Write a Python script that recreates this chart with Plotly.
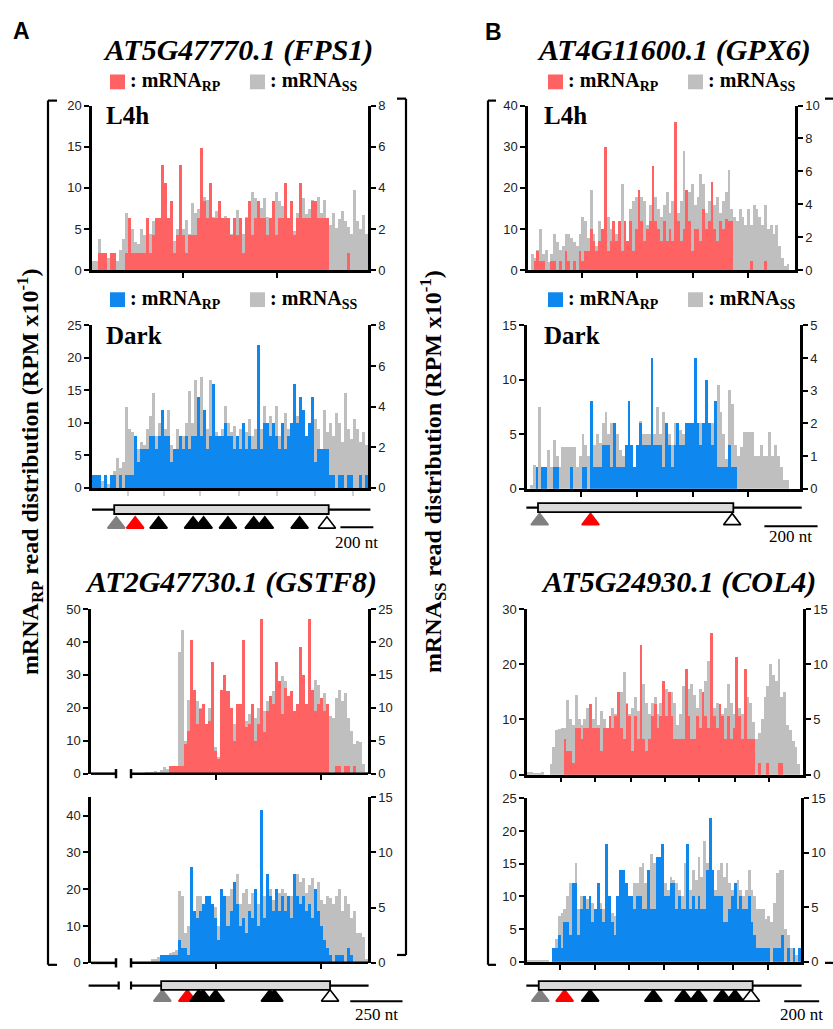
import plotly.graph_objects as go

W, H = 833, 1029
RED = "#ff6262"
BLUE = "#0e87ef"
GRAY = "#bfbfbf"

# ---------------- data: read distributions (bins along transcript) ----------------
# FPS1 (AT5G47770.1) L4h
fps1_l4h_rp = [0,0,2.1,2.1,2.1,0,2.1,2.1,0,0, 0,2.1,6.4,2.1,2.1,2.1,2.1,2.1,6.4,2.1,
               4.3,6.4,6.4,12.8,10.6,6.4,8.5,2.1,4.3,12.8, 4.3,2.1,4.3,4.3,4.3,6.4,14.9,8.5,6.4,10.6,
               6.4,6.4,8.5,6.4,6.4,6.4,4.3,6.4,4.3,6.4, 2.1,6.4,8.5,4.3,6.4,8.5,6.4,6.4,4.3,6.4,
               8.5,4.3,6.4,6.4,10.6,6.4,8.5,4.3,6.4,10.6, 6.4,6.4,6.4,8.5,8.5,6.4,6.4,6.4,6.4,0,
               0,0,0,0,0,2.1,0,0,0,0, 0,0]
fps1_l4h_ss = [0.48,0.48,1.52,0.8,0.48,0.6,0.8,0.4,0.48,1.0, 1.52,2.8,2.28,2.0,1.4,1.28,2.0,1.72,1.72,1.8,
               2.4,2.0,1.6,2.56,2.4,1.92,1.72,1.44,2.0,2.0, 2.0,2.48,1.76,3.28,2.8,3.0,2.6,3.6,3.44,3.0,
               2.6,2.88,3.12,2.4,2.64,2.2,1.8,2.4,2.96,2.16, 1.8,2.6,2.8,3.84,3.52,3.2,3.04,3.52,2.6,2.2,
               2.8,3.84,3.36,3.12,2.6,2.4,2.92,1.92,2.8,2.6, 3.52,2.76,3.0,3.44,3.2,3.6,2.8,3.44,2.56,2.2,
               2.8,2.08,2.52,2.88,2.4,2.12,1.8,3.92,2.4,2.0, 2.68,1.8]
# FPS1 Dark
fps1_dark_rp = [2,2,2,0,2,0,2,2,0,2, 0,2,2,2,8,4,6,6,6,8, 8,6,8,12,8,8,4,6,6,8,
                6,8,6,8,8,14,8,12,6,8, 16,8,8,8,10,8,8,6,8,6, 10,6,8,6,6,22,6,10,10,8,
                10,8,6,10,6,8,10,16,10,14, 12,8,10,14,4,6,6,6,6,2, 2,0,2,2,0,2,2,0,0,2, 0,2]
fps1_dark_ss = [0.32,0.32,0.32,0.32,0.32,0.16,0.32,0.8,1.44,0.96, 1.28,3.97,2.88,2.72,2.24,1.92,2.24,2.08,2.88,3.52,
                4.64,2.56,3.2,3.2,2.88,3.84,2.08,1.6,2.88,2.24, 2.56,3.2,4.74,3.2,5.28,4.48,5.44,3.84,2.88,5.28,
                4.48,2.72,2.56,2.88,4.0,3.2,2.72,3.04,2.24,2.88, 3.04,2.72,3.36,2.56,2.88,2.72,2.88,4.0,3.2,3.52,
                3.04,4.0,2.56,3.04,3.68,2.88,3.2,2.88,3.52,2.72, 3.2,2.56,2.88,2.08,3.36,2.88,1.92,3.84,2.72,3.2,
                2.56,3.68,3.2,2.24,4.64,2.88,2.4,3.36,2.88,2.24, 2.72,2.08]
# GSTF8 (AT2G47730.1) L4h
gstf8_l4h_rp = [0,0,0,0,0,0,0,0,0,0, 0,0,0,0,0,0,0,0,0,0, 0,0,0,0,0,0,2.3,2.3,2.3,2.3,
                2.3,9,13,40.5,25.5,15,19.5,21,15,16, 34,7,4.5,25.5,30,25,20,10,21,21,
                40.5,14,15,21,10,15,47,12.5,19,23.5, 21,34,28,18,26,23.5,25,19,21,38.5,
                30,21,47,25.5,19,21,23,19,21,0, 0,2.3,2.3,0,2.3,2.3,0,2.3,0,0, 0,0]
gstf8_l4h_ss = [0,0,0,0,0,0,0,0,0,0, 0,0,0,0,0,0,0,0,0.15,0.25,
                0.25,0.4,0.25,0.5,1,0.75,0.75,1,1,18.5, 21.75,5,11.25,10,6,11,10,10.5,7.5,10,
                7.5,4,2.5,7,7,10.5,9,7.5,10,7, 9,8,9,10,8.5,10,11.5,9.5,11,10,
                12.5,12.5,11,14.75,14,11.5,10,9,10.5,10, 13.75,10.5,12,12.5,14.25,13.5,11,12.25,9,8.75,
                8.5,11.5,12.75,11,12.25,8.5,6.5,4.5,5,4.75, 1.5,0.25]
# GSTF8 Dark
gstf8_dark_rp = [0,0,0,0,0,0,0,0,0,0, 0,0,0,0,0,0,0,0,0,0, 0,0,0,2,2,2,2,2,2,6,
                 4,4,2,26,14,12,14,16,18,18, 16,12,6,20,18,10,14,22,16,10, 12,8,14,12,20,10,41.5,12,24,18,
                 14,20,14,18,14,18,12,24,18,16, 18,14,16,12,20,14,10,6,4,2, 0,2,2,2,0,4,2,0,0,0, 0,0]
gstf8_dark_ss = [0,0,0,0,0,0,0,0,0,0, 0,0,0,0,0,0,0,0,0,0,
                 0.33,0.33,0.5,0.67,0.67,0.67,0.83,1,1.17,6.5, 6,2.67,3.33,4,4.33,6,6,4.67,5.67,5.67,
                 5.33,5,3.33,5.67,5.83,6,6.67,7.33,8,5.33, 6.33,6.67,5.33,6.33,6,5.33,6.67,6,7,6.67,
                 5.67,6.33,6.33,6.67,6.33,6,6,6.67,8,7.33, 7.67,6.33,7,7.67,6.67,7.33,5.67,5.33,6,5.83,
                 5.33,6,6.67,4.67,6,5.33,4,4.67,2.67,2.67, 2.33,0.33]
# GPX6 (AT4G11600.1) L4h
gpx6_l4h_rp = [0,0,2.4,4.8,2.4,2.4,0,0,2.4,2.4, 0,2.4,0,4.8,2.4,0,2.4,0,4.8,2.4,
               4.8,4.8,10,7.2,4.8,7.2,10,30,4.8,7.2, 12,7.2,12,4.8,12,7.2,12,4.8,10,19.5,
               12,7.2,10,12,25.5,12,10,7.2,12,7.2, 10,7.2,36,12,7.2,10,19.5,12,4.8,10,
               10,7.2,15,10,12,21.5,10,7.2,12,10, 12.5,12,12,0,0,0,0,0,0,2.4,
               0,0,0,0,2.4,0,0,0,0,0, 0,0,0,0,0]
gpx6_l4h_ss = [0,1,0.75,1.25,2.5,1,1.25,0.5,1,2.25, 1.75,1.25,1.5,2.25,2.25,2,1.75,1.5,2.25,3.25,
               3,2,4.88,2.25,1.5,3,2.5,3.25,3.25,2.5, 2.75,2.25,2.75,5.25,2.5,1.75,3.75,4.25,4.5,3.25,
               4.5,4.25,2.75,4,3,4.5,3.75,3.25,4,4.75, 3.5,4.25,5,3.5,4.25,7.25,4,4.75,5.25,4,
               4.5,5.88,5.25,3.5,4.25,4.75,4,4.5,3.5,4.25, 4.75,6.13,3.75,3.25,3,3.75,3.25,2.75,3.75,2.75,
               4,3.75,3.25,2.75,4,2.5,2.75,2.25,2.75,1.5, 0.75,0.25,0.38,0,0]
# GPX6 Dark
gpx6_dark_rp = [0,0,0,2,0,2,2,0,0,2, 2,0,0,0,0,2,0,0,0,2, 2,0,8,2,2,2,4,4,4,2,
                6,2,2,2,4,8,4,2,4,6, 4,4,4,12,4,4,4,2,6,4, 2,4,6,4,4,6,6,6,12,6,
                4,6,10,6,4,8,2,2,2,2, 4,2,2,0,0,0,0,0,0,0, 0,0,0,0,0,0,0,0,0,0, 0,0,0,0,0]
gpx6_dark_ss = [0,0.1,0.73,0.67,2.5,0.67,0.67,1.17,0.67,1.5, 1,0.67,1.27,1.27,1.27,1.27,1.27,0.67,1,1.67,
                1.33,1,1.67,1.33,1.67,1.4,2,2.33,1.67,2, 1,1.67,1.17,1,0.83,1.67,1.33,0.67,1.33,2.07,
                1.67,1.67,1.67,1.33,1.67,2.5,1.67,2.33,2,1.67, 1.33,2,1.67,1.8,1.67,1.67,2,1.67,2.17,1.33,
                2,2,2.07,1.67,2,1.67,3.17,2.33,1.67,0.9, 3,2.6,1.33,1,1.27,1.73,1.73,1.73,1.73,1,
                1,1.33,1,1,1.73,1,1.33,1,0.67,0.27, 0.27,0,0,0,0]
# COL4 (AT5G24930.1) L4h
col4_l4h_rp = [0,0,0,0,0,0,0,0,0,0, 0,0,0,6.4,4.3,4.3,2.1,8.5,8.5,6.4,
               8.5,8.5,12.8,8.5,8.5,8.5,4.3,8.5,8.5,10.6, 8.5,10.6,14.9,8.5,6.4,12.8,10.6,4.3,10.6,6.4,
               23.4,6.4,4.3,6.4,10.6,12.8,8.5,10.6,17,10.6, 14.9,10.6,6.4,6.4,6.4,6.4,19.2,10.6,6.4,6.4,
               10.6,8.5,14.9,10.6,8.5,25.6,10.6,8.5,12.8,10.6, 6.4,10.6,6.4,8.5,21.3,10.6,6.4,19.2,6.4,6.4,
               6.4,0,2.1,0,0,2.1,0,0,0,2.1, 2.1,0,0,0,0,0,0,0]
col4_l4h_ss = [0.25,0.25,0.15,0.1,0.1,0.25,0,0,1,2.5, 4,4.15,4.25,4.25,6.75,5,4.5,7.25,5,4.5,
               5,6,3.5,5,7,4.5,5.75,5,4,4.5, 6,5.5,5.5,7.5,9.25,6.5,5.5,6,7,5.75,
               7.5,8.25,6.5,5.5,6.5,7,5.5,6.5,6,7.75, 5,7.5,6.5,4.5,5.5,8,8.5,7.75,8.25,7.25,
               6,7.75,6.5,8.5,10.25,8,6,6.5,6.25,5.5, 6,8.25,6.5,5.5,7,6,5.5,7.75,7,6.5,
               4.75,3.25,3.75,5,7,8,10,9,8.5,10.5, 7,7.5,4.5,4,3,2.5,1,0]
# COL4 Dark
col4_dark_rp = [0,0,0,0,0,0,0,0,0,2, 2,4,2,6,6,4,12,12,4,8, 10,8,10,6,8,12,8,6,18,10,
                6,4,10,14,14,12,10,10,8,10, 10,8,8,14,8,8,16,16,18,10, 10,12,12,8,10,8,8,18,8,10,
                8,10,8,8,14,22,14,10,10,10, 6,6,8,10,12,8,10,8,8,10, 6,4,2,2,2,2,2,0,2,2,
                2,4,0,2,0,2,0,2]
col4_dark_ss = [0.18,0.18,0.18,0.18,0.18,0.18,0.18,0.18,0,1.2, 2.1,4.2,4.5,4.8,6,7.2,7.2,9,4.8,6,
                5.7,5.7,6,5.4,4.8,6.9,5.4,4.8,10.5,6, 4.5,4.2,6,7.2,7.8,6.6,6,5.4,7.2,7.2,
                8.7,9,7.2,8.4,9.9,9,8.4,9.6,9,7.2, 6.6,7.8,7.5,7.2,6.6,6,9,9.6,6.6,8.4,
                7.5,9.6,7.8,11.1,9,10.2,7.2,6.6,8.4,9, 7.8,9,7.2,6.6,5.7,7.5,6.6,6,6.6,8.4,
                6.6,6,4.8,4.8,4.8,3.9,4.2,3.6,5.4,8.1, 8.4,8.4,3,2.4,1.2,1.2,0.6,0]

# x tick positions (bin units)
fps1_l4h_xticks = [29.8, 61.2]
fps1_dark_xticks = [11.4, 23.4, 35.6, 48.4, 61.0, 73.8, 86.6]
gstf8_xticks = [40.9, 75.8]
gstf8_axis_break = [7.8, 12.8]
gpx6_l4h_xticks = [18.7, 38.3, 58.1, 77.9]
gpx6_dark_xticks = [18.4, 37.8, 57.1, 76.5]
col4_l4h_xticks = [11.7, 23.8, 36.3, 48.5, 60.7, 73.2, 85.6]
col4_dark_xticks = [11.4, 23.7, 36.1, 48.4, 60.6, 73.1, 85.8]

# gene models (bin units of the panel directly above)
fps1_gene_line = [[-0.5, 92.3]]
fps1_gene_box = [6.9, 78.4]
fps1_tri_gray = [7.6]
fps1_tri_red = [13.9]
fps1_tri_black = [21.7, 33.2, 36.7, 44.8, 53.4, 57.1, 68.7]
fps1_tri_white = [77.8]
fps1_scale = [82.3, 200, 18.2]   # start bin, nt, nt per bin

gpx6_gene_line = [[-0.73, 95.1]]
gpx6_gene_box = [3.33, 71.3]
gpx6_tri_gray = [3.9]
gpx6_tri_red = [21.6]
gpx6_tri_black = []
gpx6_tri_white = [70.9]
gpx6_scale = [82.1, 200, 10.8]

gstf8_gene_line = [[-1.3, 8.7], [12.8, 91.7]]
gstf8_gene_break = [8.7, 12.8]
gstf8_gene_box = [22.8, 78.9]
gstf8_tri_gray = [23.2]
gstf8_tri_red = [31.5]
gstf8_tri_black = [35.3, 36.7, 40.9, 58.9, 60.4]
gstf8_tri_white = [78.9]
gstf8_scale = [85.6, 250, 14.4]

col4_gene_line = [[-0.74, 97.7]]
col4_gene_box = [3.7, 80.2]
col4_tri_gray = [4.26]
col4_tri_red = [12.95]
col4_tri_black = [22.1, 44.7, 55.5, 60.8, 69.4, 73.9]
col4_tri_white = [79.6]
col4_scale = [91.5, 200, 16.0]

# ---------------- layout helpers ----------------
def fx(p):
    return p / W

def fy(p):
    return 1 - p / H

def axkey(letter, i):
    return f"{letter}axis" + ("" if i == 1 else str(i))

def axref(letter, i):
    return letter + ("" if i == 1 else str(i))

TICKFONT = dict(family="Liberation Sans, Arial", size=13, color="#222")
SERIF = "Liberation Serif, Times New Roman, serif"

panels = [
    dict(rp=fps1_l4h_rp, ss=fps1_l4h_ss, c=RED, xpx=(92, 368), ypx=(100, 267), lmax=20, ldt=5, rmax=8, rdt=2, xt=fps1_l4h_xticks, xtc="#000", brk=None),
    dict(rp=fps1_dark_rp, ss=fps1_dark_ss, c=BLUE, xpx=(92, 368), ypx=(323, 488), lmax=25, ldt=5, rmax=8, rdt=2, xt=fps1_dark_xticks, xtc="#cfcfcf", brk=None),
    dict(rp=gpx6_l4h_rp, ss=gpx6_l4h_ss, c=RED, xpx=(528, 795), ypx=(100, 267), lmax=40, ldt=10, rmax=10, rdt=2, xt=gpx6_l4h_xticks, xtc="#000", brk=None),
    dict(rp=gpx6_dark_rp, ss=gpx6_dark_ss, c=BLUE, xpx=(527, 800), ypx=(323, 489), lmax=15, ldt=5, rmax=5, rdt=1, xt=gpx6_dark_xticks, xtc="#000", brk=None),
    dict(rp=gstf8_l4h_rp, ss=gstf8_l4h_ss, c=RED, xpx=(91, 368), ypx=(611, 778), lmax=50, ldt=10, rmax=25, rdt=5, xt=gstf8_xticks, xtc="#000", brk=gstf8_axis_break),
    dict(rp=gstf8_dark_rp, ss=gstf8_dark_ss, c=BLUE, xpx=(91, 368), ypx=(802, 970), lmax=45, ldt=10, rmax=15, rdt=5, xt=gstf8_xticks, xtc="#000", brk=gstf8_axis_break),
    dict(rp=col4_l4h_rp, ss=col4_l4h_ss, c=RED, xpx=(527, 803), ypx=(611, 779), lmax=30, ldt=10, rmax=15, rdt=5, xt=col4_l4h_xticks, xtc="#000", brk=None),
    dict(rp=col4_dark_rp, ss=col4_dark_ss, c=BLUE, xpx=(527, 801), ypx=(803, 969), lmax=25, ldt=5, rmax=15, rdt=5, xt=col4_dark_xticks, xtc="#000", brk=None),
]

fig = go.Figure()
lay = {}
shapes = []
annots = []

for k, p in enumerate(panels, start=1):
    n = len(p["rp"])
    assert len(p["ss"]) == n, (k, n, len(p["ss"]))
    xi, yg, yc = k, 2 * k - 1, 2 * k
    xs = list(range(n))
    fig.add_trace(go.Bar(x=xs, y=p["ss"], xaxis=axref("x", xi), yaxis=axref("y", yg), width=1.0,
                         marker=dict(color=GRAY, line=dict(width=0)), showlegend=False, hoverinfo="skip"))
    fig.add_trace(go.Bar(x=xs, y=p["rp"], xaxis=axref("x", xi), yaxis=axref("y", yc), width=1.0,
                         marker=dict(color=p["c"], line=dict(width=0)), showlegend=False, hoverinfo="skip"))
    p["xdom"] = [fx(p["xpx"][0]), fx(p["xpx"][1])]
    p["xrange"] = [-0.5, n - 0.5]
    lay[axkey("x", xi)] = dict(domain=p["xdom"], range=p["xrange"], anchor=axref("y", yg),
                               showline=p["brk"] is None, linecolor="black", linewidth=2.5,
                               ticks="outside", tickmode="array", tickvals=p["xt"], ticklen=5, tickwidth=2,
                               tickcolor=p["xtc"], showticklabels=False, showgrid=False, zeroline=False)
    ydom = [fy(p["ypx"][1]), fy(p["ypx"][0])]
    common = dict(showline=True, linecolor="black", linewidth=2.5, ticks="outside", ticklen=5, tickwidth=2,
                  tickcolor="black", tickfont=TICKFONT, showgrid=False, zeroline=False, tickmode="linear", tick0=0)
    lay[axkey("y", yg)] = dict(domain=ydom, range=[0, p["rmax"]], dtick=p["rdt"], anchor=axref("x", xi),
                               side="right", **common)
    lay[axkey("y", yc)] = dict(range=[0, p["lmax"]], dtick=p["ldt"], anchor=axref("x", xi),
                               overlaying=axref("y", yg), side="left", **common)
    if p["brk"] is not None:
        a, b = p["brk"]
        yr = axref("y", yg) + " domain"
        for x0, x1 in ([-0.5, a], [b, n - 0.5]):
            shapes.append(dict(type="line", xref=axref("x", xi), yref=yr, x0=x0, x1=x1, y0=0, y1=0,
                               line=dict(color="black", width=2.5)))
        for xb in (a, b):
            shapes.append(dict(type="line", xref=axref("x", xi), yref=yr, x0=xb, x1=xb, y0=-0.028, y1=0.028,
                               line=dict(color="black", width=2.5)))

# ---------------- gene models ----------------
K = 4.5  # px per gene-axis unit
genes = [
    dict(panel=2, col=(55, 412), line_px=510, tri_off=15, sb_off=18, txt_off=33,
         line=fps1_gene_line, brk=None, box=fps1_gene_box, tg=fps1_tri_gray, tr=fps1_tri_red,
         tb=fps1_tri_black, tw=fps1_tri_white, scale=fps1_scale),
    dict(panel=4, col=(495, 833), line_px=508, tri_off=13.5, sb_off=19, txt_off=29,
         line=gpx6_gene_line, brk=None, box=gpx6_gene_box, tg=gpx6_tri_gray, tr=gpx6_tri_red,
         tb=gpx6_tri_black, tw=gpx6_tri_white, scale=gpx6_scale),
    dict(panel=6, col=(55, 412), line_px=993, tri_off=12, sb_off=16, txt_off=29,
         line=gstf8_gene_line, brk=gstf8_gene_break, box=gstf8_gene_box, tg=gstf8_tri_gray, tr=gstf8_tri_red,
         tb=gstf8_tri_black, tw=gstf8_tri_white, scale=gstf8_scale),
    dict(panel=8, col=(495, 833), line_px=993, tri_off=12, sb_off=16, txt_off=29,
         line=col4_gene_line, brk=None, box=col4_gene_box, tg=col4_tri_gray, tr=col4_tri_red,
         tb=col4_tri_black, tw=col4_tri_white, scale=col4_scale),
]

for m, g in enumerate(genes, start=1):
    xi, yi = 8 + m, 16 + m
    p = panels[g["panel"] - 1]
    d0, d1 = p["xdom"]
    r0, r1 = p["xrange"]
    g0, g1 = fx(g["col"][0]), fx(g["col"][1])
    sc = (r1 - r0) / (d1 - d0)
    lay[axkey("x", xi)] = dict(domain=[g0, g1], range=[r0 + (g0 - d0) * sc, r0 + (g1 - d0) * sc],
                               anchor=axref("y", yi), visible=False)
    lp = g["line_px"]
    top_px, bot_px = lp - 12, min(lp + 36, H)
    lay[axkey("y", yi)] = dict(domain=[fy(bot_px), fy(top_px)], range=[(lp - bot_px) / K, (lp - top_px) / K],
                               anchor=axref("x", xi), visible=False)
    xr, yr = axref("x", xi), axref("y", yi)
    for x0, x1 in g["line"]:
        shapes.append(dict(type="line", xref=xr, yref=yr, x0=x0, x1=x1, y0=0, y1=0,
                           line=dict(color="black", width=2.2)))
    if g["brk"] is not None:
        for xb in g["brk"]:
            shapes.append(dict(type="line", xref=xr, yref=yr, x0=xb, x1=xb, y0=-0.9, y1=0.9,
                               line=dict(color="black", width=2.2)))
    shapes.append(dict(type="rect", xref=xr, yref=yr, x0=g["box"][0], x1=g["box"][1], y0=-1, y1=1,
                       fillcolor="#d9d9d9", line=dict(color="black", width=1.8)))
    ty = -g["tri_off"] / K
    for pos, fill, edge in ((g["tg"], "#808080", "#808080"), (g["tr"], "#ff0000", "#ff0000"),
                            (g["tb"], "#000000", "#000000"), (g["tw"], "#ffffff", "#000000")):
        if pos:
            fig.add_trace(go.Scatter(x=pos, y=[ty] * len(pos), xaxis=xr, yaxis=yr, mode="markers",
                                     marker=dict(symbol="triangle-up", size=15, color=fill,
                                                 line=dict(color=edge, width=1.6)),
                                     cliponaxis=False, showlegend=False, hoverinfo="skip"))
    s0, nt, ntpb = g["scale"]
    s1 = s0 + nt / ntpb
    sby = -g["sb_off"] / K
    shapes.append(dict(type="line", xref=xr, yref=yr, x0=s0, x1=s1, y0=sby, y1=sby,
                       line=dict(color="black", width=2)))
    annots.append(dict(x=(s0 + s1) / 2, y=-g["txt_off"] / K, xref=xr, yref=yr, text=f"{nt} nt",
                       showarrow=False, font=dict(family=SERIF, size=17, color="black"),
                       xanchor="center", yanchor="middle"))

# ---------------- text decorations ----------------
def ann(x, y, text, size, family=SERIF, xanchor="center", angle=0, color="black"):
    annots.append(dict(x=fx(x), y=fy(y), xref="paper", yref="paper", text=text, showarrow=False,
                       font=dict(family=family, size=size, color=color), xanchor=xanchor,
                       yanchor="middle", textangle=angle))

ann(11, 24, "<b>A</b>", 23, family="Liberation Sans, Arial", xanchor="left")
ann(483, 25, "<b>B</b>", 23, family="Liberation Sans, Arial", xanchor="left")
ann(238, 44, "<b><i>AT5G47770.1 (FPS1)</i></b>", 30)
ann(674, 44, "<b><i>AT4G11600.1 (GPX6)</i></b>", 30)
ann(231, 583, "<b><i>AT2G47730.1 (GSTF8)</i></b>", 30)
ann(678, 583, "<b><i>AT5G24930.1 (COL4)</i></b>", 30)
ann(104, 110, "<b>L4h</b>", 25, xanchor="left")
ann(104, 333, "<b>Dark</b>", 25, xanchor="left")
ann(542, 110, "<b>L4h</b>", 25, xanchor="left")
ann(542, 333, "<b>Dark</b>", 25, xanchor="left")
ann(30, 472, "<b>mRNA<sub>RP</sub> read distribution (RPM x10<sup>-1</sup>)</b>", 24, angle=-90)
ann(433, 472, "<b>mRNA<sub>SS</sub> read distribution (RPM x10<sup>-1</sup>)</b>", 24, angle=-90)

legends = [  # (square x, y center, colour, label)
    (110, 76, RED, "RP"), (250, 76, GRAY, "SS"), (548, 76, RED, "RP"), (688, 76, GRAY, "SS"),
    (110, 297, BLUE, "RP"), (250, 297, GRAY, "SS"), (548, 297, BLUE, "RP"), (688, 297, GRAY, "SS"),
]
for sx, sy, col, sub in legends:
    shapes.append(dict(type="rect", xref="paper", yref="paper", x0=fx(sx), x1=fx(sx + 15),
                       y0=fy(sy + 7.5), y1=fy(sy - 7.5), fillcolor=col, line=dict(width=0)))
    ann(sx + 18, sy, f"<b>: mRNA<sub>{sub}</sub></b>", 20, xanchor="left")

# brackets
def seg(x0, y0, x1, y1):
    shapes.append(dict(type="line", xref="paper", yref="paper", x0=fx(x0), x1=fx(x1), y0=fy(y0), y1=fy(y1),
                       line=dict(color="black", width=2.2)))

seg(48, 95, 48, 972); seg(48, 95, 57, 95); seg(48, 972, 57, 972)
seg(406, 93, 406, 962); seg(397, 93, 406, 93); seg(397, 962, 406, 962)
seg(488, 95, 488, 972); seg(488, 95, 496, 95); seg(488, 972, 496, 972)
seg(825, 93, 833, 93); seg(825, 970, 833, 970)

lay.update(dict(width=W, height=H, autosize=False, margin=dict(l=0, r=0, t=0, b=0), paper_bgcolor="white",
                plot_bgcolor="rgba(0,0,0,0)", barmode="overlay", bargap=0, shapes=shapes,
                annotations=annots, showlegend=False))
fig.update_layout(lay)
fig.write_html("out.html", config={"displayModeBar": False},
               post_script="document.body.style.margin='0px';document.body.style.padding='0px';"
                           "document.body.style.overflow='hidden';")
